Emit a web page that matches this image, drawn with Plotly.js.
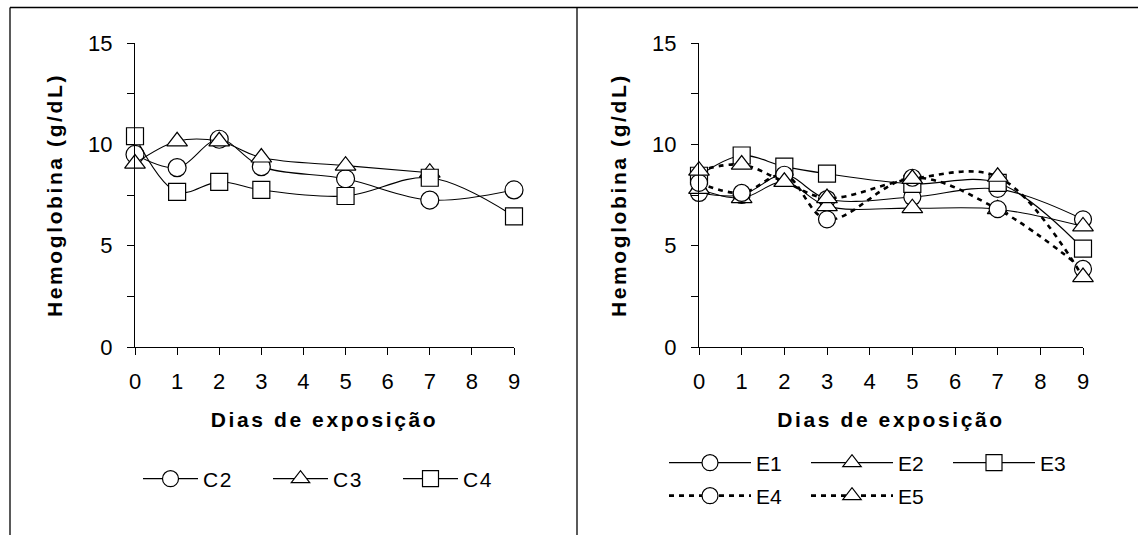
<!DOCTYPE html>
<html>
<head>
<meta charset="utf-8">
<script src="https://cdn.plot.ly/plotly-3.0.1.min.js"></script>
<style>
  html, body { margin: 0; padding: 0; background: #fff; }
  #chart { width: 1138px; height: 535px; }
  .xtitle, .ytitle, .x2title, .y2title { letter-spacing: 2.6px; }
  .legendtext { letter-spacing: 1.5px; }
</style>
</head>
<body>
<div id="chart"></div>
<script>
// ---- data ----
const daysC = [0, 1, 2, 3, 5, 7, 9];
const daysC3 = [0, 1, 2, 3, 5, 7];
const C2 = [9.5, 8.85, 10.25, 8.9, 8.3, 7.25, 7.75];
const C3 = [9.05, 10.15, 10.15, 9.35, 8.95, 8.6];
const C4 = [10.4, 7.65, 8.15, 7.75, 7.45, 8.35, 6.45];

const daysE = [0, 1, 2, 3, 5, 7, 9];
const E1 = [7.6, 7.5, 8.5, 7.3, 7.4, 7.8, 6.3];
const E2 = [7.8, 7.35, 8.15, 6.95, 6.85, 6.8, 5.95];
const E3 = [8.45, 9.45, 8.9, 8.55, 8.05, 8.1, 4.85];
const E4 = [8.1, 7.6, 8.5, 6.3, 8.35, 6.8, 3.85];
const E5 = [8.7, 9.0, 8.15, 7.35, 8.3, 8.4, 3.45];

const xTicks = [0, 1, 2, 3, 4, 5, 6, 7, 8, 9];
const yTickVals = [0, 2.5, 5, 7.5, 10, 12.5, 15];
const yTickText = ['0', '', '5', '', '10', '', '15'];
const xTitle = 'Dias de exposição';
const yTitle = 'Hemoglobina (g/dL)';

// ---- styling helpers ----
const FONT = 'Liberation Sans, Arial, sans-serif';
function series(x, y, name, symbol, dash, xa, ya, legend, size) {
  return {
    type: 'scatter', mode: 'lines+markers', x: x, y: y, name: name,
    xaxis: xa, yaxis: ya, legend: legend, cliponaxis: false,
    line: { color: '#000', width: dash === 'solid' ? 1.1 : 2.6, dash: dash === 'solid' ? 'solid' : '5px,5px', shape: 'spline', smoothing: 1 },
    marker: { symbol: symbol, size: size, color: '#fff', line: { color: '#000', width: 1.2 } }
  };
}

const traces = [
  series(daysC, C2, 'C2', 'circle', 'solid', 'x', 'y', 'legend', 18),
  series(daysC3, C3, 'C3', 'triangle-up', 'solid', 'x', 'y', 'legend', 18),
  series(daysC, C4, 'C4', 'square', 'solid', 'x', 'y', 'legend', 17),
  series(daysE, E1, 'E1', 'circle', 'solid', 'x2', 'y2', 'legend2', 17),
  series(daysE, E2, 'E2', 'triangle-up', 'solid', 'x2', 'y2', 'legend2', 18),
  series(daysE, E3, 'E3', 'square', 'solid', 'x2', 'y2', 'legend2', 17),
  series(daysE, E4, 'E4', 'circle', 'dot', 'x2', 'y2', 'legend3', 17),
  series(daysE, E5, 'E5', 'triangle-up', 'dot', 'x2', 'y2', 'legend3', 18)
];

function xAxis(domain, anchor) {
  return {
    domain: domain, anchor: anchor, range: [0, 9], tickvals: xTicks,
    showline: true, linecolor: '#000', linewidth: 1, showgrid: false, zeroline: false,
    ticks: 'outside', ticklen: 7, tickwidth: 1, tickcolor: '#000', ticklabelstandoff: 8,
    tickfont: { family: FONT, size: 22, color: '#000' },
    title: { text: xTitle, standoff: 18, font: { family: FONT, size: 21, color: '#000', weight: 'bold' } },
    fixedrange: true
  };
}
function yAxis(anchor) {
  return {
    domain: [188 / 535, 492 / 535], anchor: anchor, range: [0, 15],
    tickvals: yTickVals, ticktext: yTickText,
    showline: true, linecolor: '#000', linewidth: 1, showgrid: false, zeroline: false,
    ticks: 'outside', ticklen: 7, tickwidth: 1, tickcolor: '#000', ticklabelstandoff: 10,
    tickfont: { family: FONT, size: 22, color: '#000' },
    title: { text: yTitle, standoff: 19, font: { family: FONT, size: 21, color: '#000', weight: 'bold' } },
    fixedrange: true
  };
}
function legendAt(xPx, yPx, itemW, entryW) {
  return {
    orientation: 'h', x: xPx / 1138, xanchor: 'left', y: 1 - yPx / 535, yanchor: 'middle',
    itemwidth: itemW, entrywidth: entryW, entrywidthmode: 'pixels',
    font: { family: FONT, size: 21, color: '#000' }, bgcolor: 'rgba(0,0,0,0)', borderwidth: 0
  };
}

const layout = {
  width: 1138, height: 535,
  margin: { l: 0, r: 0, t: 0, b: 0 },
  paper_bgcolor: '#fff', plot_bgcolor: 'rgba(0,0,0,0)',
  showlegend: true,
  xaxis: xAxis([135 / 1138, 514 / 1138], 'y'),
  yaxis: yAxis('x'),
  xaxis2: xAxis([699 / 1138, 1083 / 1138], 'y2'),
  yaxis2: yAxis('x2'),
  legend: legendAt(138, 479, 55, 60),
  legend2: legendAt(664, 463, 82, 45),
  legend3: legendAt(664, 496, 82, 45),
  shapes: [
    { type: 'line', xref: 'paper', yref: 'paper', x0: 10 / 1138, x1: 1, y0: 1 - 7.5 / 535, y1: 1 - 7.5 / 535, line: { color: '#000', width: 1.3 } },
    { type: 'line', xref: 'paper', yref: 'paper', x0: 10 / 1138, x1: 10 / 1138, y0: 0, y1: 1 - 7.5 / 535, line: { color: '#000', width: 1.3 } },
    { type: 'line', xref: 'paper', yref: 'paper', x0: 577 / 1138, x1: 577 / 1138, y0: 0, y1: 1 - 7.5 / 535, line: { color: '#000', width: 1.3 } }
  ],
  hovermode: false
};

Plotly.newPlot('chart', traces, layout, { staticPlot: true, displayModeBar: false });
</script>
</body>
</html>
